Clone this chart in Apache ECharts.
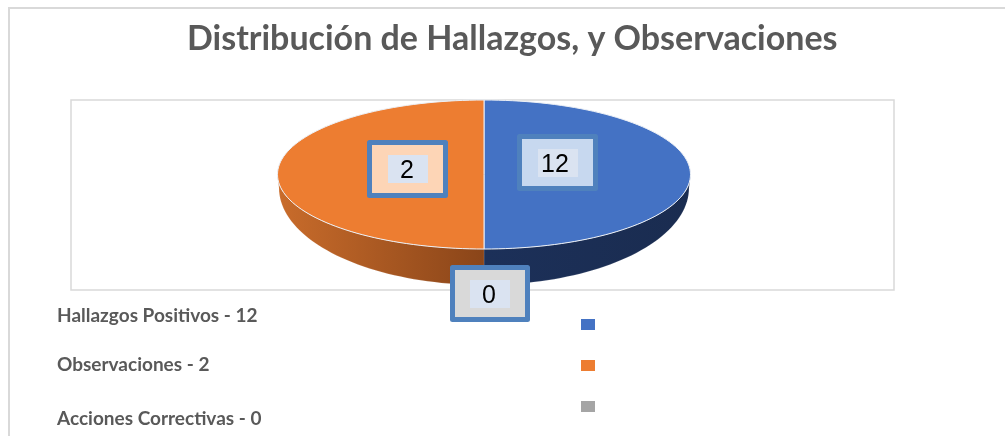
<!DOCTYPE html>
<html>
<head>
<meta charset="utf-8">
<title>Distribución de Hallazgos, y Observaciones</title>
<script src="https://cdn.jsdelivr.net/npm/echarts@6/dist/echarts.min.js"></script>
<style>
html, body { margin: 0; padding: 0; background: #fff; }
#chart { width: 1005px; height: 436px; }
</style>
</head>
<body>
<div id="chart"></div>
<script>
var chartTitle = 'Distribución de Hallazgos, y Observaciones';
var categories = ['Hallazgos Positivos', 'Observaciones', 'Acciones Correctivas'];
var labelValues = [12, 2, 0];
// the picture draws the two visible slices as equal halves, whatever the labels say
var sliceShares = [50, 50, 0];

var topColors = ['#4472c4', '#ed7d31', '#a5a5a5'];
var wallColors = [['#1c3059', '#1a2c50'], ['#c96c2b', '#8a4519'], ['#777777', '#555555']];
var boxFills = ['#c7d8ef', '#fdd5b6', '#d9d9d9'];

var topEllipse = { cx: 484, cy: 174.5, rx: 206.5, ry: 74.5 };
var baseEllipse = { cx: 484, cy: 188, rx: 205, ry: 97 };
var boxes = [
    { x: 517, y: 134, w: 81, h: 57, tx: 538, ty: 149, lx: 555 },
    { x: 367, y: 140, w: 81, h: 58, tx: 388, ty: 155, lx: 407 },
    { x: 450, y: 265, w: 80, h: 57, tx: 470, ty: 280, lx: 489 }
];
var legendTextY = [316, 365, 419];

function point(e, deg) {
    var a = deg * Math.PI / 180;
    return [e.cx + e.rx * Math.sin(a), e.cy - e.ry * Math.cos(a)];
}

function arc(e, from, to) {
    var pts = [];
    for (var d = from; d <= to; d += 2) {
        pts.push(point(e, d));
    }
    pts.push(point(e, to));
    return pts;
}

function sliceRange(idx) {
    var total = 0, before = 0;
    for (var i = 0; i < sliceShares.length; i++) {
        total += sliceShares[i];
        if (i < idx) before += sliceShares[i];
    }
    return [before / total * 360, (before + sliceShares[idx]) / total * 360];
}

function renderSlice(params, api) {
    var idx = params.seriesIndex;
    var range = sliceRange(idx);
    var kids = [];

    // wall only shows on the front half
    var from = Math.max(range[0], 90);
    var to = Math.min(range[1], 270);
    if (to > from) {
        kids.push({
            type: 'polygon',
            z2: 1,
            shape: { points: arc(topEllipse, from, to).concat(arc(baseEllipse, from, to).reverse()) },
            style: {
                fill: {
                    type: 'linear', x: 0, y: 0, x2: 1, y2: 0,
                    colorStops: [
                        { offset: 0, color: wallColors[idx][0] },
                        { offset: 1, color: wallColors[idx][1] }
                    ]
                },
                stroke: 'rgba(255,255,255,0.25)',
                lineWidth: 0.5
            }
        });
    }

    if (range[1] > range[0]) {
        kids.push({
            type: 'polygon',
            z2: 2,
            shape: { points: [[topEllipse.cx, topEllipse.cy]].concat(arc(topEllipse, range[0], range[1])) },
            style: { fill: topColors[idx], stroke: '#ecf0f6', lineWidth: 1 }
        });
    }

    var b = boxes[idx];
    kids.push({
        type: 'rect',
        z2: 10,
        shape: { x: b.x + 2.5, y: b.y + 2.5, width: b.w - 5, height: b.h - 5 },
        style: { fill: boxFills[idx], stroke: '#4f81bd', lineWidth: 5, lineJoin: 'round' }
    });
    kids.push({
        type: 'rect',
        z2: 11,
        shape: { x: b.tx, y: b.ty, width: 40, height: 28 },
        style: { fill: '#dae3f1' }
    });
    kids.push({
        type: 'text',
        z2: 12,
        style: {
            x: b.lx,
            y: b.ty + 16,
            text: String(api.value(0)),
            fill: '#000',
            font: '25px "Liberation Sans", Arial, sans-serif',
            align: 'center',
            verticalAlign: 'middle'
        }
    });
    return { type: 'group', children: kids };
}

var seriesList = [];
var legendTexts = [];
for (var i = 0; i < categories.length; i++) {
    seriesList.push({
        name: categories[i],
        type: 'custom',
        coordinateSystem: 'none',
        silent: true,
        itemStyle: { color: topColors[i] },
        renderItem: renderSlice,
        data: [[labelValues[i]]]
    });
    legendTexts.push({
        type: 'text',
        left: 57,
        top: legendTextY[i] - 10,
        style: {
            text: categories[i] + ' - ' + labelValues[i],
            fill: '#595959',
            font: 'bold 19px Lato, sans-serif'
        }
    });
}

var myChart = echarts.init(document.getElementById('chart'), null, { renderer: 'canvas' });
myChart.setOption({
    animation: false,
    backgroundColor: '#fff',
    title: {
        text: chartTitle,
        left: 182,
        top: 17,
        textStyle: {
            color: '#595959',
            fontFamily: 'Lato, sans-serif',
            fontWeight: 'bold',
            fontSize: 34
        }
    },
    legend: {
        orient: 'vertical',
        left: 576,
        top: 314,
        icon: 'rect',
        itemWidth: 14,
        itemHeight: 11,
        itemGap: 30,
        selectedMode: false,
        formatter: function () { return ''; },
        textStyle: { fontSize: 1, padding: 0 },
        data: categories
    },
    graphic: [
        {
            type: 'rect',
            silent: true,
            shape: { x: 9, y: 8, width: 1100, height: 600 },
            style: { fill: 'none', stroke: '#d9d9d9', lineWidth: 2 }
        },
        {
            type: 'rect',
            silent: true,
            shape: { x: 71, y: 100, width: 823, height: 190 },
            style: { fill: 'none', stroke: '#d9d9d9', lineWidth: 1.5 }
        }
    ].concat(legendTexts),
    series: seriesList
});
</script>
</body>
</html>
